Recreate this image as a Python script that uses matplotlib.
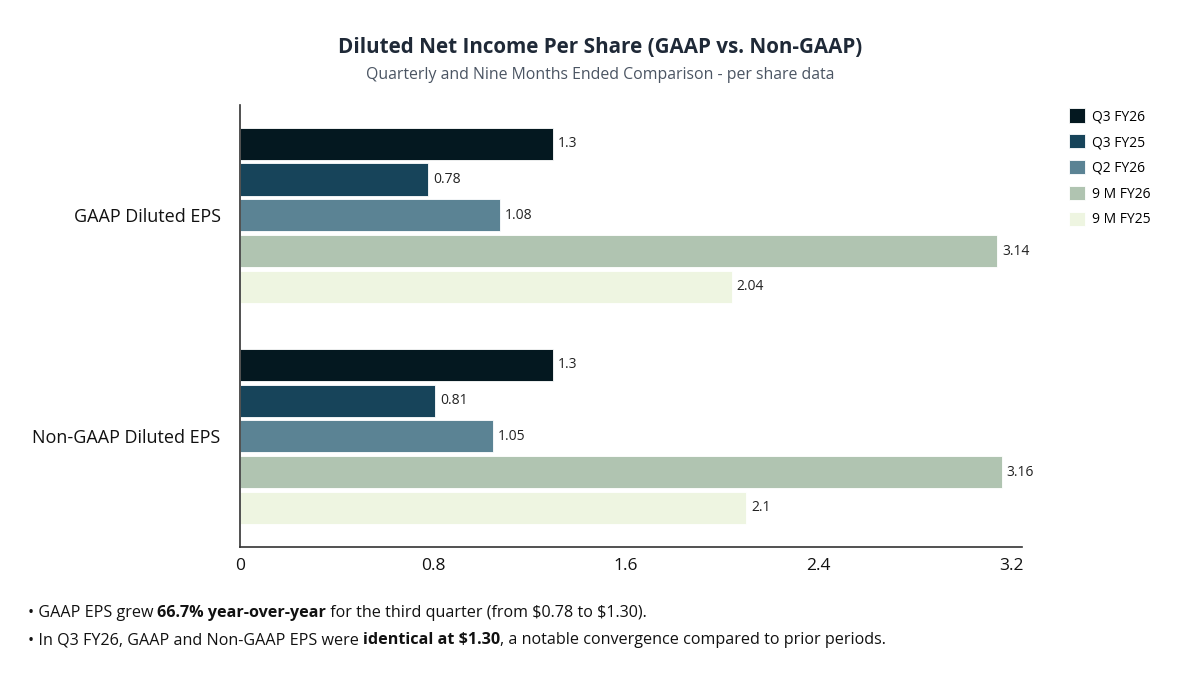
import matplotlib.pyplot as plt
import numpy as np

categories = ["GAAP Diluted EPS", "Non-GAAP Diluted EPS"]
series_names = ["Q3 FY26", "Q3 FY25", "Q2 FY26", "9 M FY26", "9 M FY25"]
q3_fy26 = [1.30, 1.30]
q3_fy25 = [0.78, 0.81]
q2_fy26 = [1.08, 1.05]
nm_fy26 = [3.14, 3.16]
nm_fy25 = [2.04, 2.10]
value_labels = [["1.3", "1.3"], ["0.78", "0.81"], ["1.08", "1.05"],
                ["3.14", "3.16"], ["2.04", "2.1"]]
x_ticks = [0, 0.8, 1.6, 2.4, 3.2]
x_tick_labels = ["0", "0.8", "1.6", "2.4", "3.2"]

notes = [
    [("• GAAP EPS grew ", "normal"), ("66.7% year-over-year", "bold"),
     (" for the third quarter (from $0.78 to $1.30).", "normal")],
    [("• In Q3 FY26, GAAP and Non-GAAP EPS were ", "normal"),
     ("identical at $1.30", "bold"),
     (", a notable convergence compared to prior periods.", "normal")],
]

colors = ["#041820", "#17445a", "#5b8394", "#b0c4b1", "#eef5e1"]
plt.rcParams["font.family"] = ["Open Sans", "DejaVu Sans"]
plt.rcParams["text.parse_math"] = False

fig = plt.figure(figsize=(12, 6.76), dpi=100)
ax = fig.add_axes([0.2, 0.191, 0.652, 0.654])

series = [q3_fy26, q3_fy25, q2_fy26, nm_fy26, nm_fy25]
y = np.arange(len(categories))
step = 0.162
h = 0.145
for i, vals in enumerate(series):
    pos = y + (i - 2) * step
    ax.barh(pos, vals, height=h, color=colors[i], edgecolor="white",
            linewidth=0.6, label=series_names[i])
    for p, v, lab in zip(pos, vals, value_labels[i]):
        ax.text(v + 0.02, p, lab, va="center", ha="left", fontsize=10,
                color="#222222")

ax.set_ylim(1.5, -0.5)
ax.set_xlim(0, 3.245)
ax.set_yticks(y)
ax.set_yticklabels(categories, fontsize=13, color="#111111")
ax.set_xticks(x_ticks)
ax.set_xticklabels(x_tick_labels, fontsize=12.5, color="#111111")
ax.tick_params(length=0, pad=8)
ax.tick_params(axis="y", pad=14)
for s in ["top", "right"]:
    ax.spines[s].set_visible(False)
for s in ["left", "bottom"]:
    ax.spines[s].set_color("#333333")
    ax.spines[s].set_linewidth(1.2)

ax.legend(loc="upper left", bbox_to_anchor=(1.043, 1.02), frameon=False,
          fontsize=10, handlelength=1.2, handleheight=1.2,
          labelspacing=0.72, handletextpad=0.5)

fig.text(0.5, 0.930, "Diluted Net Income Per Share (GAAP vs. Non-GAAP)",
         ha="center", va="center", fontsize=14.9, fontweight="bold",
         color="#1f2937")
fig.text(0.5, 0.889, "Quarterly and Nine Months Ended Comparison - per share data",
         ha="center", va="center", fontsize=11.4, color="#4b5563")

# bullet notes with bold runs, placed piece by piece
renderer = fig.canvas.get_renderer()
for row, ypos in zip(notes, [0.093, 0.053]):
    x = 0.023
    for txt, weight in row:
        t = fig.text(x, ypos, txt, ha="left", va="center", fontsize=11.6,
                     fontweight=weight, color="#111111")
        bb = t.get_window_extent(renderer=renderer)
        x += bb.width / fig.bbox.width

fig.savefig("out.png", dpi=100, facecolor="white")
